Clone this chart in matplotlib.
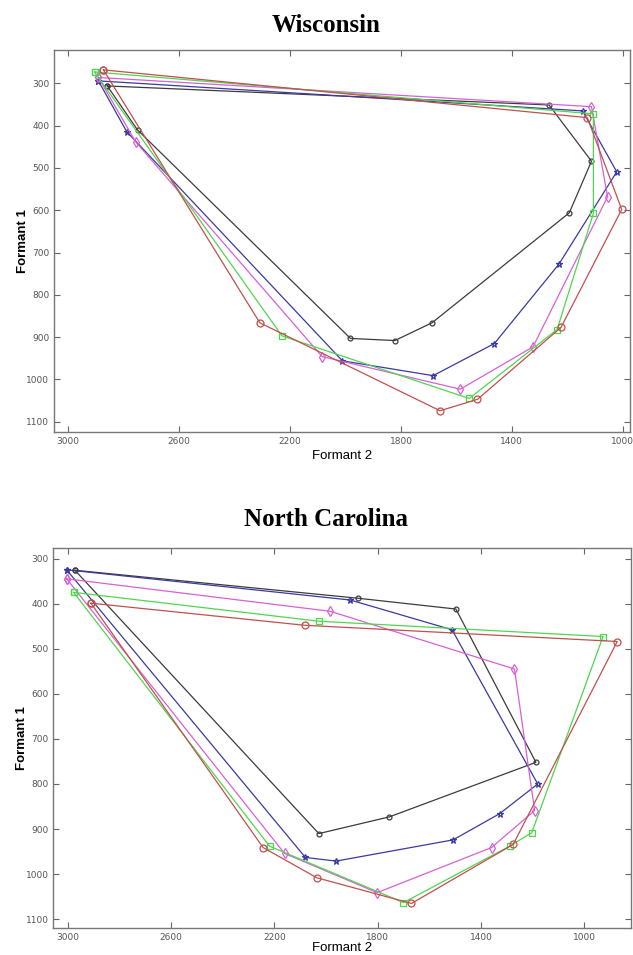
import matplotlib.pyplot as plt
import numpy as np

# Wisconsin vowel spaces (Formant 2, Formant 1)
wi_red_f2 = [2873, 2309, 1659, 1524, 1223, 1004, 1128]
wi_red_f1 = [268, 866, 1074, 1047, 877, 598, 381]
wi_green_f2 = [2905, 2229, 1554, 1237, 1106, 1106]
wi_green_f1 = [273, 897, 1045, 882, 607, 372]
wi_mag_f2 = [2891, 2757, 2084, 1586, 1324, 1055, 1113]
wi_mag_f1 = [286, 438, 946, 1023, 923, 568, 355]
wi_blue_f2 = [2891, 2789, 2011, 1684, 1463, 1230, 1022, 1145]
wi_blue_f1 = [294, 414, 956, 991, 915, 727, 509, 365]
wi_black_f2 = [2859, 2750, 1982, 1822, 1688, 1193, 1113, 1266]
wi_black_f1 = [306, 410, 903, 908, 866, 606, 484, 351]

# North Carolina vowel spaces
nc_red_f2 = [2911, 2083, 872, 1275, 1669, 2036, 2244]
nc_red_f1 = [399, 448, 484, 934, 1065, 1008, 941]
nc_green_f2 = [2978, 2028, 927, 1203, 1289, 1700, 2219]
nc_green_f1 = [375, 439, 473, 908, 938, 1063, 938]
nc_mag_f2 = [3005, 1984, 1270, 1192, 1359, 1802, 2161]
nc_mag_f1 = [345, 417, 545, 859, 941, 1041, 954]
nc_blue_f2 = [3005, 1906, 1512, 1180, 1328, 1508, 1961, 2080]
nc_blue_f1 = [325, 392, 458, 800, 866, 924, 971, 963]
nc_black_f2 = [2973, 1877, 1497, 1187, 1755, 2028]
nc_black_f1 = [326, 388, 412, 752, 873, 910]

x_ticks = [3000, 2600, 2200, 1800, 1400, 1000]
y_ticks = [300, 400, 500, 600, 700, 800, 900, 1000, 1100]

colors = {'red': '#c0504d', 'green': '#4fd64f', 'mag': '#d860d8',
          'blue': '#3a3aa0', 'black': '#3c3c3c'}
markers = {'red': 'o', 'green': 's', 'mag': 'd', 'blue': '*', 'black': 'o'}


def draw(ax, series, xlim, ylim):
    for key, f2, f1 in series:
        # close each vowel polygon
        f2 = np.append(f2, f2[0])
        f1 = np.append(f1, f1[0])
        ax.plot(f2, f1, color=colors[key], lw=0.9, marker=markers[key],
                ms=5 if key != 'black' else 3.5, mfc='none', mew=0.9)
    ax.set_xlim(*xlim)
    ax.set_ylim(*ylim)
    ax.set_xticks(x_ticks)
    ax.set_yticks(y_ticks)
    ax.tick_params(direction='in', top=True, right=True, length=4,
                   color='#666666', labelsize=6.5, labelcolor='#555555')
    for s in ax.spines.values():
        s.set_color('#777777')
        s.set_linewidth(1.0)
    ax.set_xlabel('Formant 2', fontsize=9.5, family='Liberation Sans', labelpad=3)
    ax.set_ylabel('Formant 1', fontsize=9.5, family='Liberation Sans',
                  fontweight='bold', labelpad=-2)


fig = plt.figure(figsize=(6.33, 9.55), dpi=100)

ax1 = fig.add_axes([0.0858, 0.5473, 0.9095, 0.4008])
draw(ax1, [('black', wi_black_f2, wi_black_f1), ('blue', wi_blue_f2, wi_blue_f1),
           ('mag', wi_mag_f2, wi_mag_f1), ('green', wi_green_f2, wi_green_f1),
           ('red', wi_red_f2, wi_red_f1)], (3050, 974), (1125, 220))

ax2 = fig.add_axes([0.0845, 0.028, 0.913, 0.398])
draw(ax2, [('black', nc_black_f2, nc_black_f1), ('blue', nc_blue_f2, nc_blue_f1),
           ('mag', nc_mag_f2, nc_mag_f1), ('green', nc_green_f2, nc_green_f1),
           ('red', nc_red_f2, nc_red_f1)], (3056, 817), (1120, 277))
ax2.xaxis.labelpad = 0

fig.text(0.515, 1 - 25 / 955, 'Wisconsin', ha='center', va='center',
         family='Liberation Serif', fontweight='bold', fontsize=18)
fig.text(0.515, 1 - 520 / 955, 'North Carolina', ha='center', va='center',
         family='Liberation Serif', fontweight='bold', fontsize=18)

fig.savefig('out.png', dpi=100)
